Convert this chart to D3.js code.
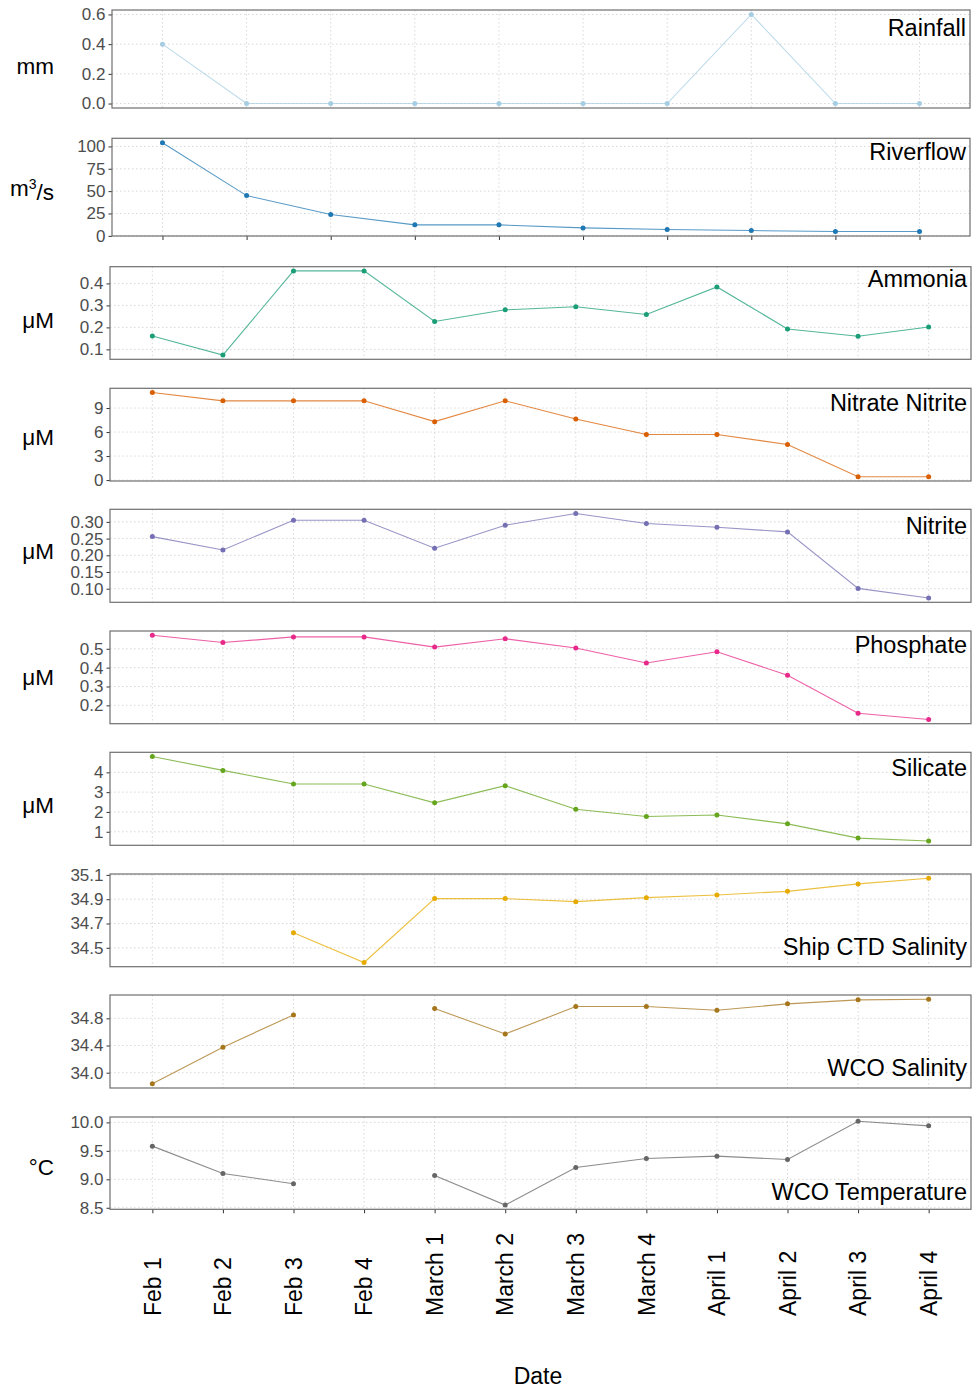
<!DOCTYPE html>
<html>
<head>
<meta charset="utf-8">
<script src="https://cdn.jsdelivr.net/npm/d3@7"></script>
<style>
  html, body { margin: 0; padding: 0; background: #fff; }
  svg { display: block; font-family: "Liberation Sans", Arial, sans-serif; }
</style>
</head>
<body>
<svg id="chart" width="972" height="1389"></svg>
<script>
// Sampling dates for the water-column series
const sampleDates = ["Feb 1", "Feb 2", "Feb 3", "Feb 4", "March 1", "March 2",
  "March 3", "March 4", "April 1", "April 2", "April 3", "April 4"];
// Weather / river gauge readings (10 sampling points)
const flowSamples = ["1", "2", "3", "4", "5", "6", "7", "8", "9", "10"];

const rainfall = [0.4, 0, 0, 0, 0, 0, 0, 0.6, 0, 0];
const riverflow = [104.1, 45.0, 23.8, 12.3, 12.3, 8.9, 7.1, 5.9, 4.8, 4.8];

const ammonia = [0.161, 0.074, 0.457, 0.457, 0.227, 0.280, 0.294, 0.259, 0.384, 0.193, 0.160, 0.202];
const nitrateNitrite = [10.94, 9.9, 9.9, 9.9, 7.3, 9.9, 7.63, 5.69, 5.69, 4.45, 0.41, 0.41];
const nitrite = [0.256, 0.216, 0.305, 0.305, 0.221, 0.290, 0.325, 0.295, 0.284, 0.270, 0.101, 0.072];
const phosphate = [0.572, 0.533, 0.563, 0.563, 0.509, 0.553, 0.504, 0.425, 0.484, 0.360, 0.158, 0.125];
const silicate = [4.80, 4.10, 3.41, 3.41, 2.46, 3.33, 2.14, 1.77, 1.85, 1.40, 0.68, 0.53];
const shipSalinity = [null, null, 34.624, 34.379, 34.905, 34.905, 34.880, 34.913, 34.935, 34.965, 35.026, 35.073];
const wcoSalinity = [33.837, 34.376, 34.850, null, 34.944, 34.569, 34.973, 34.973, 34.919, 35.013, 35.072, 35.081];
const wcoTemperature = [9.583, 9.103, 8.921, null, 9.068, 8.547, 9.209, 9.367, 9.407, 9.349, 10.021, 9.939];

// Y tick values per panel
const rainTicks = [0, 0.2, 0.4, 0.6];
const flowTicks = [0, 25, 50, 75, 100];
const ammoniaTicks = [0.1, 0.2, 0.3, 0.4];
const nitrateTicks = [0, 3, 6, 9];
const nitriteTicks = [0.10, 0.15, 0.20, 0.25, 0.30];
const phosphateTicks = [0.2, 0.3, 0.4, 0.5];
const silicateTicks = [1, 2, 3, 4];
const shipSalTicks = [34.5, 34.7, 34.9, 35.1];
const wcoSalTicks = [34.0, 34.4, 34.8];
const tempTicks = [8.5, 9.0, 9.5, 10.0];

// unit label pieces: [text, superscript?]
const panels = [
  { title: "Rainfall", unit: [["mm", false]], cats: flowSamples, values: rainfall, ticks: rainTicks, fmt: ".1f", color: "#a6cee3" },
  { title: "Riverflow", unit: [["m", false], ["3", true], ["/s", false]], cats: flowSamples, values: riverflow, ticks: flowTicks, fmt: "d", color: "#1f78b4" },
  { title: "Ammonia", unit: [["μM", false]], cats: sampleDates, values: ammonia, ticks: ammoniaTicks, fmt: ".1f", color: "#1b9e77" },
  { title: "Nitrate Nitrite", unit: [["μM", false]], cats: sampleDates, values: nitrateNitrite, ticks: nitrateTicks, fmt: "d", color: "#d95f02" },
  { title: "Nitrite", unit: [["μM", false]], cats: sampleDates, values: nitrite, ticks: nitriteTicks, fmt: ".2f", color: "#7570b3" },
  { title: "Phosphate", unit: [["μM", false]], cats: sampleDates, values: phosphate, ticks: phosphateTicks, fmt: ".1f", color: "#e7298a" },
  { title: "Silicate", unit: [["μM", false]], cats: sampleDates, values: silicate, ticks: silicateTicks, fmt: "d", color: "#66a61e" },
  { title: "Ship CTD Salinity", unit: null, cats: sampleDates, values: shipSalinity, ticks: shipSalTicks, fmt: ".1f", color: "#e6ab02" },
  { title: "WCO Salinity", unit: null, cats: sampleDates, values: wcoSalinity, ticks: wcoSalTicks, fmt: ".1f", color: "#a6761d" },
  { title: "WCO Temperature", unit: [["°C", false]], cats: sampleDates, values: wcoTemperature, ticks: tempTicks, fmt: ".1f", color: "#666666" }
];

// Panel boxes and label placement
const layout = [
  { x0: 112, x1: 970, y0: 10,    y1: 108,   titleAt: "top",    titleDy: 25.7, unitDy: 15,  xTicks: false },
  { x0: 112, x1: 970, y0: 138.3, y1: 236,   titleAt: "top",    titleDy: 21.7, unitDy: 9,   xTicks: true },
  { x0: 110, x1: 971, y0: 266.7, y1: 359.3, titleAt: "top",    titleDy: 20,   unitDy: 14.7, xTicks: false },
  { x0: 110, x1: 971, y0: 388.3, y1: 481,   titleAt: "top",    titleDy: 22.7, unitDy: 10.3, xTicks: false },
  { x0: 110, x1: 971, y0: 509.3, y1: 602.3, titleAt: "top",    titleDy: 24.7, unitDy: 3.5, xTicks: false },
  { x0: 110, x1: 971, y0: 631,   y1: 723.7, titleAt: "top",    titleDy: 22.3, unitDy: 7.7, xTicks: false },
  { x0: 110, x1: 971, y0: 752.3, y1: 845.3, titleAt: "top",    titleDy: 23.3, unitDy: 14,  xTicks: false },
  { x0: 110, x1: 971, y0: 874,   y1: 966.7, titleAt: "bottom", titleDy: -11.7, unitDy: 0,  xTicks: false },
  { x0: 110, x1: 971, y0: 995,   y1: 1088,  titleAt: "bottom", titleDy: -12.3, unitDy: 0,  xTicks: false },
  { x0: 110, x1: 971, y0: 1117,  y1: 1209.3, titleAt: "bottom", titleDy: -9.3, unitDy: 12, xTicks: true }
];

const svg = d3.select("#chart");
let lastX = null;

panels.forEach((p, i) => {
  const L = layout[i];
  const g = svg.append("g");

  const x = d3.scalePoint().domain(p.cats).range([L.x0, L.x1]).padding(0.6);
  const ext = d3.extent(p.values.filter(v => v != null));
  const pad = (ext[1] - ext[0]) * 0.05;
  const y = d3.scaleLinear().domain([ext[0] - pad, ext[1] + pad]).range([L.y1, L.y0]);

  // dotted grid
  g.append("g").selectAll("line.h").data(p.ticks).join("line")
    .attr("x1", L.x0).attr("x2", L.x1)
    .attr("y1", d => y(d)).attr("y2", d => y(d))
    .attr("stroke", "#d4d4d4").attr("stroke-width", 0.9).attr("stroke-dasharray", "1.5,2.5");
  g.append("g").selectAll("line.v").data(p.cats).join("line")
    .attr("x1", d => x(d)).attr("x2", d => x(d))
    .attr("y1", L.y0).attr("y2", L.y1)
    .attr("stroke", "#d4d4d4").attr("stroke-width", 0.9).attr("stroke-dasharray", "1.5,2.5");

  // y axis
  const ya = g.append("g").attr("transform", `translate(${L.x0},0)`)
    .call(d3.axisLeft(y).tickValues(p.ticks).tickFormat(d3.format(p.fmt)).tickSize(3.5).tickPadding(3));
  ya.select(".domain").remove();
  ya.selectAll(".tick line").attr("stroke", "#333").attr("stroke-width", 1);
  ya.selectAll(".tick text").attr("fill", "#4d4d4d").style("font-size", "17px")
    .style("font-family", "'Liberation Sans', Arial, sans-serif");

  // x axis ticks (bottom panel of each group)
  if (L.xTicks) {
    const xa = g.append("g").attr("transform", `translate(0,${L.y1})`)
      .call(d3.axisBottom(x).tickSize(4).tickFormat(""));
    xa.select(".domain").remove();
    xa.selectAll(".tick line").attr("stroke", "#333").attr("stroke-width", 1);
    lastX = x;
  }

  // series line and points
  const idx = d3.range(p.values.length);
  const line = d3.line()
    .defined(k => p.values[k] != null)
    .x(k => x(p.cats[k]))
    .y(k => y(p.values[k]));
  g.append("path").datum(idx)
    .attr("d", line).attr("fill", "none")
    .attr("stroke", p.color).attr("stroke-width", 1.1).attr("stroke-opacity", 0.75);
  g.append("g").selectAll("circle").data(idx.filter(k => p.values[k] != null)).join("circle")
    .attr("cx", k => x(p.cats[k])).attr("cy", k => y(p.values[k]))
    .attr("r", 2.5).attr("fill", p.color);

  // panel border
  g.append("rect")
    .attr("x", L.x0).attr("y", L.y0)
    .attr("width", L.x1 - L.x0).attr("height", L.y1 - L.y0)
    .attr("fill", "none").attr("stroke", "#6f6f6f").attr("stroke-width", 1.2);

  // panel title
  g.append("text")
    .attr("x", L.x1 - 4)
    .attr("y", (L.titleAt === "top" ? L.y0 : L.y1) + L.titleDy)
    .attr("text-anchor", "end")
    .attr("fill", "#000")
    .style("font-size", "23.5px")
    .text(p.title);

  // unit label
  if (p.unit) {
    const t = g.append("text")
      .attr("x", 54)
      .attr("y", (L.y0 + L.y1) / 2 + L.unitDy)
      .attr("text-anchor", "end")
      .attr("fill", "#000")
      .style("font-size", "22.5px");
    p.unit.forEach(([s, sup], k) => {
      const ts = t.append("tspan").text(s);
      if (sup) ts.attr("dy", "-0.5em").style("font-size", "14px");
      else if (k > 0 && p.unit[k - 1][1]) ts.attr("dy", "0.5em");
    });
  }
});

// date labels under the last panel
svg.append("g").selectAll("text").data(sampleDates).join("text")
  .attr("transform", d => `translate(${lastX(d)},1316) rotate(-90)`)
  .attr("dy", "0.36em")
  .attr("text-anchor", "start")
  .attr("fill", "#000")
  .style("font-size", "23px")
  .text(d => d);

svg.append("text")
  .attr("x", 538).attr("y", 1384)
  .attr("text-anchor", "middle")
  .attr("fill", "#000")
  .style("font-size", "23px")
  .text("Date");
</script>
</body>
</html>
